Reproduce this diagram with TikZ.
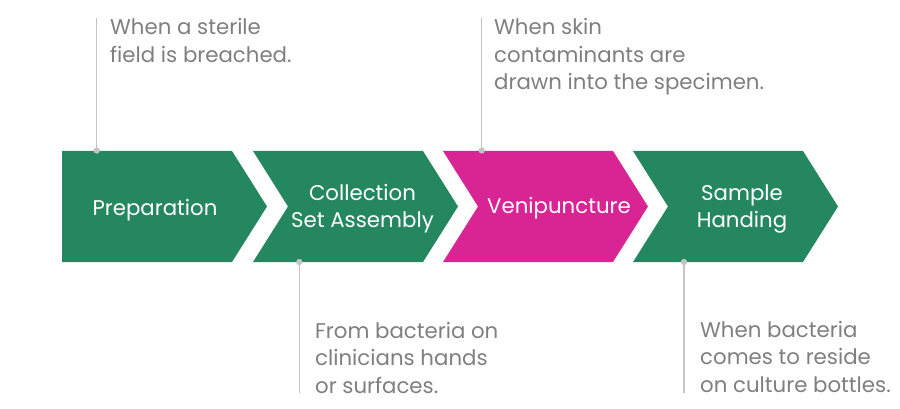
\documentclass[tikz,border=0pt]{standalone}
\usepackage{fontspec}
\setmainfont{Poppins}
\definecolor{stepgreen}{HTML}{258760}
\definecolor{stepmagenta}{HTML}{D82593}
\definecolor{notegray}{HTML}{7F7F7F}
\definecolor{linegray}{HTML}{C4C4C4}
\begin{document}
\begin{tikzpicture}[x=1pt,y=-1pt,
  chevfill/.style={fill=#1,draw=none},
  steplabel/.style={text=white,font=\fontsize{21.3}{27}\selectfont,align=center,anchor=base,inner sep=0pt},
  notetext/.style={text=notegray,font=\fontsize{21.3}{27.5}\selectfont,align=left,anchor=base west,inner sep=0pt},
  leader/.style={draw=linegray,line width=1.5pt},
  dotmark/.style={circle,fill=linegray,minimum size=6pt,inner sep=0pt}]
\useasboundingbox (0,0) rectangle (900,409);
% chevrons
\fill[chevfill=stepgreen] (62,151) -- (232,151) -- (267,206.5) -- (232,262) -- (62,262) -- cycle;
\fill[chevfill=stepgreen] (253,151) -- (423,151) -- (458,206.5) -- (423,262) -- (253,262) -- (288,206.5) -- cycle;
\fill[chevfill=stepmagenta] (443,151) -- (613,151) -- (648,206.5) -- (613,262) -- (443,262) -- (478,206.5) -- cycle;
\fill[chevfill=stepgreen] (633,151) -- (803,151) -- (838,206.5) -- (803,262) -- (633,262) -- (668,206.5) -- cycle;
% step labels (base anchor = last line's baseline)
\node[steplabel] (s1) at (155,215) {Preparation};
\node[steplabel] (s2) at (362.5,227) {Collection\\Set Assembly};
\node[steplabel] (s3) at (559,214) {Venipuncture};
\node[steplabel] (s4) at (742,227) {Sample\\Handing};
% leader anchor points
\node[dotmark] (d1) at (96.7,150.5) {};
\node[dotmark] (d2) at (299.3,262) {};
\node[dotmark] (d3) at (481.7,150.5) {};
\node[dotmark] (d4) at (684,262) {};
\coordinate (e1) at (96.7,18);
\coordinate (e2) at (299.3,393);
\coordinate (e3) at (481.7,18);
\coordinate (e4) at (684,393);
\draw[leader] (d1.center) -- (e1);
\draw[leader] (d2.center) -- (e2);
\draw[leader] (d3.center) -- (e3);
\draw[leader] (d4.center) -- (e4);
\node[dotmark] at (d1) {};
\node[dotmark] at (d2) {};
\node[dotmark] at (d3) {};
\node[dotmark] at (d4) {};
% notes (base anchor = last line's baseline)
\node[notetext] (n1) at (110,62.5) {When a sterile\\field is breached.};
\node[notetext] (n2) at (494,90) {When skin\\contaminants are\\drawn into the specimen.};
\node[notetext] (n3) at (315,393) {From bacteria on\\clinicians hands\\or surfaces.};
\node[notetext] (n4) at (700,392) {When bacteria\\comes to reside\\on culture bottles.};
\end{tikzpicture}
\end{document}
